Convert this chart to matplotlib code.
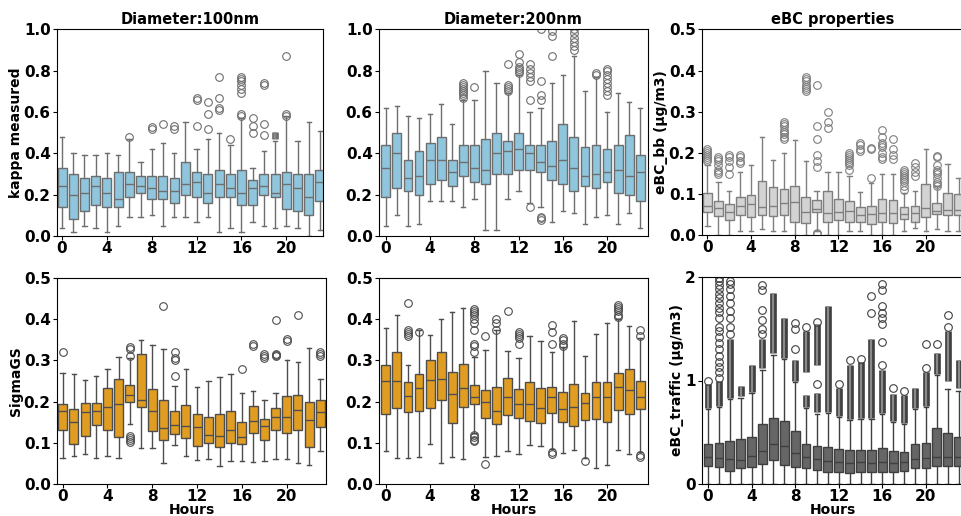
import matplotlib
matplotlib.use("Agg")
import matplotlib.pyplot as plt

plt.rcParams["font.family"] = "DejaVu Sans"
plt.rcParams["font.weight"] = "bold"
plt.rcParams["axes.labelweight"] = "bold"
plt.rcParams["axes.titleweight"] = "bold"

hours = list(range(24))
xtick_vals = [0, 4, 8, 12, 16, 20]

# ---- kappa, 100 nm ----
k100_q1 = [0.14, 0.08, 0.12, 0.15, 0.14, 0.14, 0.19, 0.21, 0.18, 0.18, 0.16, 0.20,
           0.19, 0.16, 0.19, 0.19, 0.15, 0.15, 0.20, 0.19, 0.13, 0.12, 0.10, 0.17]
k100_med = [0.24, 0.20, 0.21, 0.24, 0.21, 0.18, 0.25, 0.24, 0.23, 0.22, 0.22, 0.25,
            0.26, 0.21, 0.25, 0.23, 0.21, 0.23, 0.24, 0.21, 0.25, 0.23, 0.19, 0.26]
k100_q3 = [0.33, 0.30, 0.28, 0.29, 0.28, 0.31, 0.31, 0.29, 0.29, 0.29, 0.28, 0.36,
           0.31, 0.30, 0.32, 0.30, 0.32, 0.27, 0.30, 0.30, 0.31, 0.30, 0.30, 0.32]
k100_lo = [0.04, 0.02, 0.05, 0.04, 0.02, 0.05, 0.09, 0.09, 0.10, 0.05, 0.09, 0.09,
           0.07, 0.09, 0.02, 0.04, 0.02, 0.07, 0.05, 0.04, 0.05, 0.04, 0.00, 0.03]
k100_hi = [0.48, 0.40, 0.39, 0.39, 0.40, 0.39, 0.47, 0.36, 0.42, 0.45, 0.40, 0.55,
           0.42, 0.47, 0.50, 0.44, 0.57, 0.33, 0.41, 0.46, 0.58, 0.46, 0.55, 0.51]
k100_fl = [[], [], [], [], [], [], [0.48], [], [0.52, 0.525], [0.54], [0.52, 0.53], [],
           [0.53, 0.66, 0.67], [0.52, 0.59, 0.65], [0.61, 0.62, 0.67, 0.77], [0.47],
           [0.58, 0.59, 0.69, 0.71, 0.73, 0.75, 0.76, 0.77], [0.50, 0.53, 0.57],
           [0.49, 0.54, 0.73, 0.74], [], [0.58, 0.59, 0.87], [], [], []]
k100_dense = [(19, 0.47, 0.505)]

# ---- kappa, 200 nm ----
k200_q1 = [0.19, 0.23, 0.22, 0.20, 0.25, 0.27, 0.24, 0.29, 0.26, 0.25, 0.30, 0.30,
           0.32, 0.32, 0.31, 0.27, 0.25, 0.22, 0.24, 0.23, 0.26, 0.21, 0.20, 0.17]
k200_med = [0.33, 0.40, 0.28, 0.29, 0.37, 0.37, 0.31, 0.36, 0.33, 0.32, 0.40, 0.41,
            0.42, 0.40, 0.36, 0.34, 0.37, 0.33, 0.29, 0.30, 0.31, 0.32, 0.29, 0.31]
k200_q3 = [0.44, 0.50, 0.37, 0.41, 0.45, 0.48, 0.37, 0.44, 0.44, 0.47, 0.50, 0.46,
           0.50, 0.44, 0.44, 0.46, 0.54, 0.48, 0.43, 0.44, 0.42, 0.44, 0.49, 0.39]
k200_lo = [0.05, 0.10, 0.05, 0.06, 0.17, 0.17, 0.17, 0.14, 0.18, 0.03, 0.03, 0.18,
           0.22, 0.16, 0.14, 0.07, 0.12, 0.11, 0.06, 0.09, 0.10, 0.06, 0.11, 0.04]
k200_hi = [0.62, 0.63, 0.58, 0.57, 0.59, 0.64, 0.54, 0.66, 0.66, 0.80, 0.74, 0.69,
           0.78, 0.60, 0.62, 0.74, 0.78, 0.87, 0.70, 0.77, 0.60, 0.69, 0.65, 0.62]
k200_fl = [[], [], [], [], [], [], [],
           [0.67, 0.68, 0.69, 0.70, 0.71, 0.72, 0.73, 0.74], [0.72], [], [],
           [0.70, 0.71, 0.72, 0.73, 0.83],
           [0.79, 0.80, 0.81, 0.82, 0.84, 0.88],
           [0.14, 0.66, 0.75, 0.77, 0.79, 0.81, 0.83],
           [0.075, 0.085, 0.09, 0.66, 0.68, 0.75, 1.0],
           [0.87, 0.97, 0.99], [],
           [0.90, 0.92, 0.94, 0.96, 0.98, 1.0], [], [0.78, 0.79],
           [0.68, 0.70, 0.72, 0.74, 0.76, 0.78, 0.80, 0.81], [], [], []]

# ---- eBC_bb ----
bb_q1 = [0.057, 0.048, 0.038, 0.050, 0.046, 0.050, 0.047, 0.049, 0.032, 0.030, 0.056, 0.032,
         0.038, 0.033, 0.033, 0.027, 0.032, 0.030, 0.040, 0.033, 0.046, 0.052, 0.050, 0.050]
bb_med = [0.072, 0.066, 0.057, 0.072, 0.077, 0.070, 0.071, 0.080, 0.081, 0.056, 0.064, 0.054,
          0.057, 0.060, 0.050, 0.052, 0.055, 0.054, 0.053, 0.054, 0.066, 0.060, 0.062, 0.062]
bb_q3 = [0.103, 0.083, 0.076, 0.093, 0.098, 0.132, 0.117, 0.112, 0.120, 0.094, 0.085, 0.107,
         0.088, 0.084, 0.068, 0.071, 0.089, 0.085, 0.070, 0.072, 0.124, 0.079, 0.102, 0.100]
bb_lo = [0.022, 0.0, 0.0, 0.010, 0.012, 0.015, 0.010, 0.010, 0.0, 0.0, 0.010, 0.0,
         0.0, 0.010, 0.010, 0.0, 0.0, 0.0, 0.012, 0.018, 0.012, 0.015, 0.012, 0.010]
bb_hi = [0.170, 0.130, 0.108, 0.155, 0.170, 0.240, 0.182, 0.200, 0.232, 0.180, 0.108, 0.153,
         0.153, 0.145, 0.105, 0.128, 0.148, 0.148, 0.103, 0.108, 0.210, 0.120, 0.173, 0.140]
bb_fl = [[0.18, 0.185, 0.19, 0.195, 0.20, 0.205, 0.21],
         [0.15, 0.155, 0.16, 0.17, 0.18, 0.185, 0.19],
         [0.15, 0.165, 0.18, 0.19, 0.195],
         [0.175, 0.18, 0.19, 0.195], [], [], [],
         [0.235, 0.24, 0.245, 0.25, 0.255, 0.265, 0.27, 0.275], [],
         [0.35, 0.355, 0.36, 0.365, 0.375, 0.38, 0.385],
         [0.003, 0.007, 0.165, 0.18, 0.195, 0.235, 0.265, 0.365],
         [0.26, 0.275, 0.30], [],
         [0.16, 0.17, 0.175, 0.18, 0.185, 0.19, 0.195, 0.20],
         [0.205, 0.21, 0.22, 0.225],
         [0.14, 0.21, 0.212],
         [0.185, 0.19, 0.20, 0.215, 0.22, 0.225, 0.24, 0.255],
         [0.185, 0.195, 0.21, 0.235],
         [0.11, 0.12, 0.13, 0.135, 0.14, 0.145, 0.15, 0.155, 0.16],
         [0.145, 0.155, 0.165, 0.175], [],
         [0.12, 0.125, 0.13, 0.14, 0.15, 0.155, 0.16, 0.17, 0.19, 0.192], [], []]

# ---- SigmaGS, 100 nm ----
s100_q1 = [0.130, 0.097, 0.117, 0.142, 0.130, 0.114, 0.199, 0.188, 0.128, 0.108, 0.121, 0.112,
           0.092, 0.100, 0.090, 0.100, 0.097, 0.123, 0.106, 0.131, 0.124, 0.130, 0.090, 0.138]
s100_med = [0.177, 0.150, 0.175, 0.177, 0.186, 0.194, 0.217, 0.205, 0.177, 0.136, 0.143, 0.141,
            0.138, 0.120, 0.116, 0.130, 0.114, 0.152, 0.140, 0.162, 0.162, 0.180, 0.155, 0.175]
s100_q3 = [0.195, 0.182, 0.197, 0.197, 0.233, 0.255, 0.240, 0.315, 0.230, 0.205, 0.178, 0.192,
           0.170, 0.162, 0.170, 0.176, 0.150, 0.190, 0.157, 0.185, 0.213, 0.217, 0.198, 0.203]
s100_lo = [0.063, 0.068, 0.073, 0.063, 0.067, 0.063, 0.145, 0.088, 0.088, 0.051, 0.094, 0.068,
           0.058, 0.060, 0.043, 0.055, 0.057, 0.054, 0.055, 0.061, 0.061, 0.052, 0.046, 0.079]
s100_hi = [0.270, 0.268, 0.253, 0.262, 0.278, 0.308, 0.305, 0.350, 0.338, 0.327, 0.238, 0.278,
           0.235, 0.250, 0.260, 0.268, 0.221, 0.226, 0.205, 0.222, 0.300, 0.295, 0.330, 0.254]
s100_fl = [[0.32], [], [], [], [], [],
           [0.102, 0.107, 0.112, 0.117, 0.31, 0.328, 0.333], [], [], [0.432],
           [0.262, 0.30, 0.306, 0.32], [], [], [], [], [], [0.28], [0.335, 0.34],
           [0.305, 0.31, 0.316], [0.31, 0.314, 0.316, 0.398], [0.348, 0.352], [0.41], [],
           [0.31, 0.315, 0.32]]

# ---- SigmaGS, 200 nm ----
s200_q1 = [0.170, 0.185, 0.174, 0.178, 0.184, 0.204, 0.149, 0.186, 0.193, 0.159, 0.145, 0.168,
           0.160, 0.153, 0.147, 0.172, 0.150, 0.140, 0.155, 0.157, 0.151, 0.180, 0.170, 0.181]
s200_med = [0.250, 0.250, 0.213, 0.232, 0.253, 0.256, 0.218, 0.232, 0.210, 0.199, 0.178, 0.210,
            0.193, 0.193, 0.185, 0.210, 0.182, 0.188, 0.197, 0.210, 0.210, 0.235, 0.227, 0.210]
s200_q3 = [0.289, 0.320, 0.247, 0.268, 0.302, 0.320, 0.272, 0.291, 0.240, 0.228, 0.235, 0.258,
           0.230, 0.248, 0.233, 0.235, 0.223, 0.242, 0.222, 0.247, 0.247, 0.270, 0.278, 0.250]
s200_lo = [0.080, 0.062, 0.064, 0.066, 0.096, 0.052, 0.066, 0.061, 0.125, 0.065, 0.069, 0.081,
           0.073, 0.095, 0.093, 0.085, 0.076, 0.082, 0.063, 0.040, 0.046, 0.082, 0.072, 0.078]
s200_hi = [0.378, 0.410, 0.289, 0.373, 0.361, 0.400, 0.418, 0.427, 0.308, 0.326, 0.375, 0.322,
           0.307, 0.360, 0.347, 0.320, 0.332, 0.395, 0.310, 0.365, 0.390, 0.400, 0.383, 0.355]
s200_fl = [[], [], [0.36, 0.365, 0.37, 0.374, 0.44], [0.37], [], [], [], [],
           [0.104, 0.108, 0.113, 0.12, 0.32, 0.335, 0.34, 0.375, 0.39, 0.40, 0.41, 0.415, 0.42, 0.425],
           [0.048, 0.36], [0.375, 0.39, 0.40], [0.42],
           [0.34, 0.355, 0.36, 0.365, 0.37], [], [],
           [0.072, 0.078, 0.34, 0.37, 0.385], [0.335, 0.34, 0.35, 0.355], [], [0.055], [], [],
           [0.405, 0.41, 0.42, 0.425, 0.43, 0.435], [], [0.065, 0.07, 0.36, 0.375]]

# ---- eBC_traffic ----
tr_q1 = [0.17, 0.16, 0.13, 0.15, 0.16, 0.19, 0.23, 0.18, 0.16, 0.15, 0.14, 0.12,
         0.12, 0.11, 0.12, 0.12, 0.12, 0.12, 0.13, 0.15, 0.15, 0.17, 0.17, 0.17]
tr_med = [0.26, 0.25, 0.24, 0.23, 0.27, 0.32, 0.39, 0.37, 0.30, 0.26, 0.24, 0.22,
          0.21, 0.20, 0.21, 0.20, 0.21, 0.20, 0.21, 0.24, 0.25, 0.26, 0.26, 0.26]
tr_q3 = [0.39, 0.40, 0.42, 0.43, 0.45, 0.58, 0.64, 0.61, 0.51, 0.39, 0.37, 0.36,
         0.34, 0.33, 0.33, 0.33, 0.35, 0.32, 0.31, 0.39, 0.40, 0.54, 0.49, 0.45]
tr_lo = [0.0] * 24
tr_hi = [0.72, 0.74, 0.82, 0.83, 0.88, 1.10, 1.25, 1.21, 0.99, 0.73, 0.68, 0.69,
         0.65, 0.62, 0.63, 0.63, 0.68, 0.60, 0.58, 0.72, 0.74, 1.05, 0.92, 0.90]
tr_fl = [[1.0],
         [1.02, 1.08, 1.13, 1.18, 1.24, 1.3, 1.36, 1.42, 1.48, 1.52, 1.6, 1.66, 1.7,
          1.75, 1.8, 1.84, 1.88, 1.92, 1.96, 1.99],
         [1.45, 1.52, 1.6, 1.67, 1.75, 1.82, 1.88, 1.93, 1.96], [], [],
         [1.45, 1.5, 1.58, 1.68, 1.87, 1.92], [], [], [1.3, 1.5, 1.56], [1.52],
         [0.97, 1.57], [], [0.97], [1.2], [1.21], [1.65, 1.82],
         [1.15, 1.37, 1.55, 1.6, 1.65, 1.72, 1.87, 1.93], [0.93], [0.9], [],
         [1.12, 1.35], [1.35], [1.52, 1.63], []]
# columns of overlapping outliers: (hour, from, to)
tr_dense = [(0, 0.73, 0.97), (1, 0.75, 1.0), (2, 0.83, 1.40), (3, 0.85, 0.95),
            (4, 0.89, 1.15), (5, 1.12, 1.40), (6, 1.27, 1.85), (7, 1.22, 1.60),
            (8, 1.00, 1.20), (9, 0.74, 0.86), (9, 1.08, 1.48), (10, 0.70, 0.88),
            (10, 1.15, 1.55), (11, 0.70, 1.72), (12, 0.66, 0.93), (13, 0.63, 1.15),
            (14, 0.64, 1.18), (15, 0.64, 1.40), (16, 0.69, 1.10), (17, 0.61, 0.87),
            (18, 0.59, 0.86), (19, 0.73, 0.93), (20, 0.75, 1.08), (21, 1.06, 1.27),
            (22, 1.00, 1.48), (23, 0.93, 1.20)]


def draw(ax, q1, med, q3, lo, hi, fl, face, edge, dense=()):
    stats = []
    for i in hours:
        stats.append(dict(q1=q1[i], med=med[i], q3=q3[i], whislo=lo[i],
                          whishi=hi[i], fliers=fl[i]))
    # stacked outliers look like a dark strip with a lighter core
    for h, a, b in dense:
        ax.vlines(h, a, b, color=edge, lw=4.8, zorder=1)
        ax.vlines(h, a, b, color="#8a8a8a", lw=1.6, zorder=1.1)
    ax.bxp(stats, positions=hours, widths=0.8, patch_artist=True,
           boxprops=dict(facecolor=face, edgecolor=edge, lw=1),
           medianprops=dict(color=edge, lw=1),
           whiskerprops=dict(color=edge, lw=1),
           capprops=dict(color=edge, lw=1),
           flierprops=dict(marker="o", markerfacecolor="none",
                           markeredgecolor=edge, markersize=5.5, markeredgewidth=0.8))
    ax.set_xticks(xtick_vals)
    ax.set_xticklabels([str(v) for v in xtick_vals])
    ax.tick_params(labelsize=11, length=3, pad=1.5)
    ax.tick_params(axis="x", pad=0.5)


fig = plt.figure(figsize=(9.62, 5.16), dpi=100)
W, H = 962.0, 516.0


def axes_px(x0, x1, ytop, ybot):
    return fig.add_axes([x0 / W, 1 - ybot / H, (x1 - x0) / W, (ybot - ytop) / H])


blue = "#8fc6dd"
orange = "#e09d22"
lab = 10

ax1 = axes_px(57, 323, 29.3, 236)
draw(ax1, k100_q1, k100_med, k100_q3, k100_lo, k100_hi, k100_fl, blue, "#6e6e6e", k100_dense)
ax1.set_xlim(-0.45, 23.27)
ax1.set_ylim(0, 1)
ax1.set_yticks([0, 0.2, 0.4, 0.6, 0.8, 1.0])
ax1.set_title("Diameter:100nm", fontsize=10.5, pad=4)
ax1.set_ylabel("kappa measured", fontsize=lab, labelpad=0.5)

ax2 = axes_px(379, 648, 29.3, 236)
draw(ax2, k200_q1, k200_med, k200_q3, k200_lo, k200_hi, k200_fl, blue, "#6e6e6e")
ax2.set_xlim(-0.62, 23.7)
ax2.set_ylim(0, 1)
ax2.set_yticks([0, 0.2, 0.4, 0.6, 0.8, 1.0])
ax2.set_title("Diameter:200nm", fontsize=10.5, pad=4)

ax3 = axes_px(702, 964, 29.3, 235.5)
draw(ax3, bb_q1, bb_med, bb_q3, bb_lo, bb_hi, bb_fl, "#d3d3d3", "#7f7f7f")
ax3.set_xlim(-0.5, 23.5)
ax3.set_ylim(0, 0.5)
ax3.set_yticks([0, 0.1, 0.2, 0.3, 0.4, 0.5])
ax3.set_title("eBC properties", fontsize=10.5, pad=4)
ax3.set_ylabel("eBC_bb (\u00b5g/m3)", fontsize=lab, labelpad=0.5)

ax4 = axes_px(57, 326, 278, 484)
draw(ax4, s100_q1, s100_med, s100_q3, s100_lo, s100_hi, s100_fl, orange, "#4d4d4d")
ax4.set_xlim(-0.5, 23.5)
ax4.set_ylim(0, 0.5)
ax4.set_yticks([0, 0.1, 0.2, 0.3, 0.4, 0.5])
ax4.set_ylabel("SigmaGS", fontsize=lab, labelpad=0.5)
ax4.set_xlabel("Hours", fontsize=10, labelpad=-0.5)

ax5 = axes_px(379, 648, 278, 484)
draw(ax5, s200_q1, s200_med, s200_q3, s200_lo, s200_hi, s200_fl, orange, "#4d4d4d")
ax5.set_xlim(-0.62, 23.7)
ax5.set_ylim(0, 0.5)
ax5.set_yticks([0, 0.1, 0.2, 0.3, 0.4, 0.5])
ax5.set_xlabel("Hours", fontsize=10, labelpad=-0.5)

ax6 = axes_px(702, 964, 277, 484)
draw(ax6, tr_q1, tr_med, tr_q3, tr_lo, tr_hi, tr_fl, "#666666", "#3f3f3f", tr_dense)
ax6.set_xlim(-0.55, 23.5)
ax6.set_ylim(0, 2)
ax6.set_yticks([0, 1, 2])
ax6.set_ylabel("eBC_traffic (\u00b5g/m3)", fontsize=lab, labelpad=0.5)
ax6.set_xlabel("Hours", fontsize=10, labelpad=-0.5)

fig.savefig("out.png", dpi=100)
